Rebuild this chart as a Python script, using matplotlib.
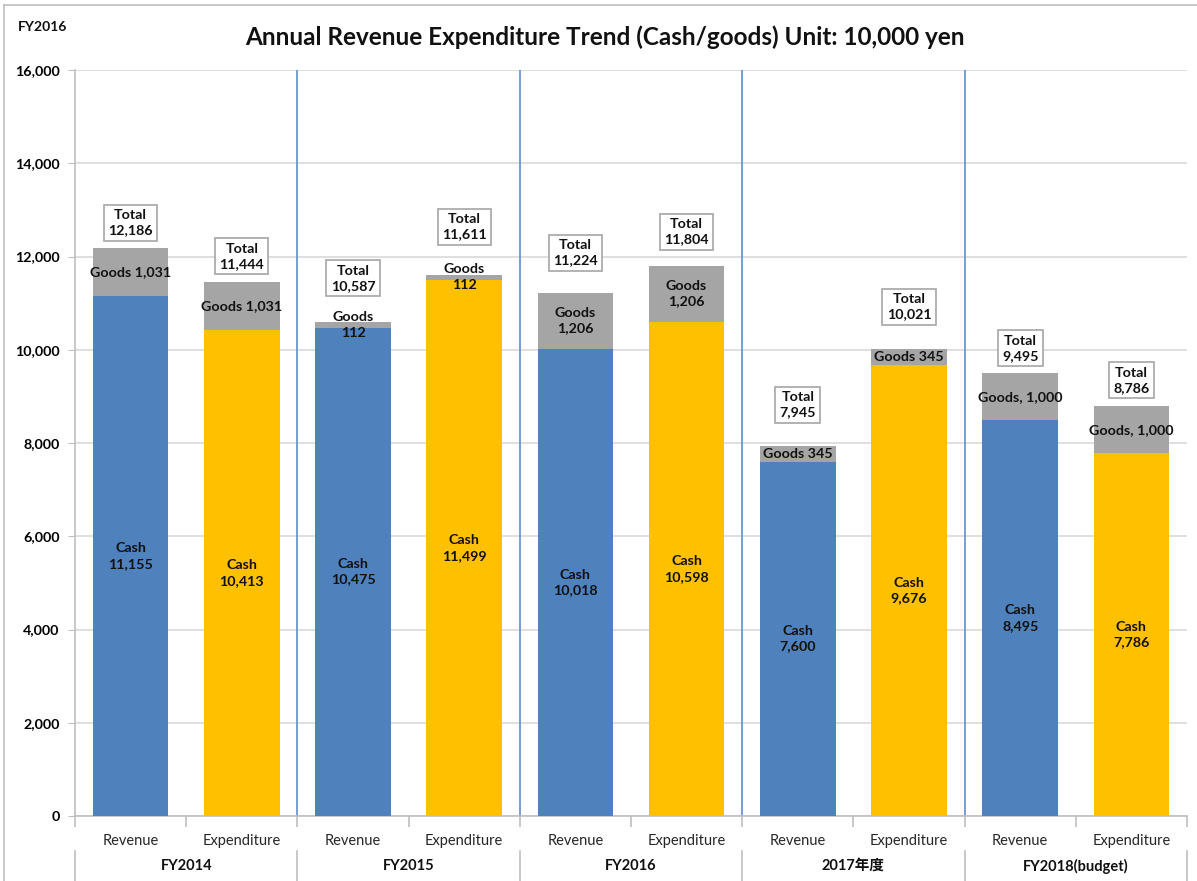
import matplotlib
matplotlib.use("Agg")
import matplotlib.pyplot as plt
import numpy as np
from matplotlib.ticker import FuncFormatter
from matplotlib.transforms import blended_transform_factory

plt.rcParams["font.family"] = ["Lato", "Noto Sans CJK JP", "DejaVu Sans"]

years = ["FY2014", "FY2015", "FY2016", "2017年度", "FY2018(budget)"]
kinds = ["Revenue", "Expenditure"]
cash = [11155, 10413, 10475, 11499, 10018, 10598, 7600, 9676, 8495, 7786]
goods = [1031, 1031, 112, 112, 1206, 1206, 345, 345, 1000, 1000]

# how each goods label was written on the sheet, and where the total boxes sit
goods_sep = [" ", " ", "\n", "\n", "\n", "\n", " ", " ", ", ", ", "]
total_gap = [25, 26, 44, 48, 40, 34, 41, 42, 25, 26]  # px from bar top to box centre

BLUE = "#4f81bd"
GOLD = "#ffc000"
GREY = "#a5a5a5"
SEP = "#6a96d2"
AXIS = "#bfbfbf"

cash = np.array(cash)
goods = np.array(goods)
total = cash + goods
x = np.arange(len(cash))
colors = [BLUE, GOLD] * len(years)

fig = plt.figure(figsize=(11.97, 8.81), dpi=100)
ax = fig.add_axes([75 / 1197, 1 - 816 / 881, 1112 / 1197, 746 / 881])

ax.bar(x, cash, 0.68, color=colors, zorder=3)
ax.bar(x, goods, 0.68, bottom=cash, color=GREY, zorder=3)
ax.vlines(np.arange(1.5, len(x) - 1, 2), 0, 16000, color=SEP, lw=1.3, zorder=2)

lab = dict(ha="center", va="center", fontsize=10.3, fontweight="bold",
           color="#111111", linespacing=1.35, zorder=5)
for i in x:
    ax.text(i, cash[i] / 2, f"Cash\n{cash[i]:,}", **lab)
    ax.text(i, cash[i] + goods[i] / 2, f"Goods{goods_sep[i]}{goods[i]:,}", **lab)
    ax.annotate(f"Total\n{total[i]:,}", xy=(i, total[i]), xytext=(0, total_gap[i]),
                textcoords="offset pixels",
                bbox=dict(boxstyle="square,pad=0.3", fc="white", ec="#a6a6a6", lw=1.2),
                **lab)

ax.set_xlim(-0.5, len(x) - 0.5)
ax.set_ylim(0, 16000)
ax.set_yticks(np.arange(0, 16001, 2000))
ax.yaxis.set_major_formatter(FuncFormatter(lambda v, p: f"{v:,.0f}"))
ax.tick_params(axis="y", length=5, color=AXIS, pad=6, labelsize=10.3)
for t in ax.get_yticklabels():
    t.set_fontweight("bold")
ax.yaxis.grid(True, color="#d9d9d9", lw=1.2)
ax.set_axisbelow(True)

ax.set_xticks(x)
ax.set_xticklabels(kinds * len(years), fontsize=10.5, color="#262626")
ax.tick_params(axis="x", which="major", length=0, pad=13)
ax.set_xticks(np.arange(-0.5, len(x), 1), minor=True)
ax.tick_params(axis="x", which="minor", length=8, color=AXIS, width=1.2)

for s in ["top", "right"]:
    ax.spines[s].set_visible(False)
for s in ["left", "bottom"]:
    ax.spines[s].set_color(AXIS)
    ax.spines[s].set_linewidth(1.2)

trans = blended_transform_factory(ax.transData, ax.transAxes)
for g, name in enumerate(years):
    ax.text(2 * g + 0.5, -50 / 746, name, transform=trans, ha="center", va="center",
            fontsize=10.5, fontweight="bold", color="#111111")
for b in np.arange(-0.5, len(x), 2):
    ax.plot([b, b], [-35 / 746, -70 / 746], transform=trans, color=AXIS, lw=1.2,
            clip_on=False)

fig.text(0.505, 1 - 37 / 881, "Annual Revenue Expenditure Trend (Cash/goods) Unit: 10,000 yen",
         ha="center", va="center", fontsize=17.5, fontweight="bold", color="#111111")
fig.text(18 / 1197, 1 - 27 / 881, "FY2016", ha="left", va="center",
         fontsize=10, fontweight="bold", color="#111111")

# outer chart frame
fig.add_artist(plt.Line2D([4 / 1197, 4 / 1197], [0, 1 - 5 / 881], color=AXIS, lw=1.2))
fig.add_artist(plt.Line2D([4 / 1197, 1], [1 - 5 / 881, 1 - 5 / 881], color=AXIS, lw=1.2))

fig.savefig("out.png", dpi=100)
